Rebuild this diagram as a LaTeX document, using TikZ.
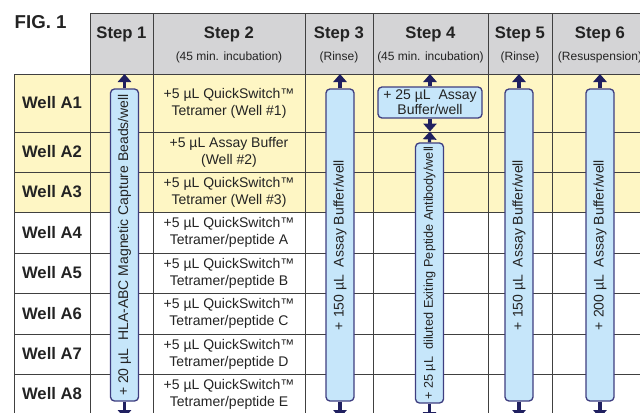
\documentclass[tikz,border=0pt]{standalone}
\usepackage{fontspec}
\setmainfont{Liberation Sans}
\usetikzlibrary{arrows.meta}
\definecolor{hdrgray}{RGB}{212,212,214}
\definecolor{wellyellow}{RGB}{254,246,196}
\definecolor{barblue}{RGB}{198,230,250}
\definecolor{barline}{RGB}{62,62,128}
\definecolor{arrnavy}{RGB}{32,32,96}
\definecolor{gridgray}{RGB}{64,64,64}
\definecolor{txt}{RGB}{35,35,35}

\begin{document}
\begin{tikzpicture}[x=0.75pt,y=-0.75pt,
    cell/.style={text=txt,align=center,font=\fontsize{10.5}{12.8}\selectfont},
    head/.style={text=txt,font=\bfseries\fontsize{12.5}{14}\selectfont},
    sub/.style={text=txt,font=\fontsize{9}{10}\selectfont},
    bar/.style={draw=barline,line width=1pt,fill=barblue,rounded corners=3pt,
      rotate=90,inner sep=0pt,minimum height=21pt,text=txt,
      font=\fontsize{10.5}{12}\selectfont},
    addbox/.style={draw=barline,line width=1pt,fill=barblue,rounded corners=3pt,
      inner sep=0pt,minimum width=78pt,minimum height=23.25pt,align=center,
      text=txt,font=\fontsize{10.5}{11.5}\selectfont},
    arr/.style={arrnavy,line width=2.4pt,-{Triangle[width=10pt,length=6pt]}}]
  \useasboundingbox (0,0) rectangle (640,412);
  \clip (0,0) rectangle (640,412);
  \fill[hdrgray] (90,13) rectangle (660,74);
  \fill[wellyellow] (14,74) rectangle (660,212);
  \draw[gridgray,line width=0.75pt] (90,13) -- (660,13);
  \draw[gridgray,line width=0.75pt] (14,74) -- (14,420);
  \foreach \x in {90,153,305,373,488,552}
    \draw[gridgray,line width=0.75pt] (\x,13) -- (\x,420);
  \foreach \y in {74,132,172,212,253,293,334,374}
    \draw[gridgray,line width=0.75pt] (14,\y) -- (660,\y);

  \node[anchor=west,text=txt,font=\bfseries\fontsize{14}{16}\selectfont] (fig) at (10,22) {FIG. 1};
  \node[head] (h1) at (121.5,34) {Step 1};
  \node[head] (h2) at (229,34) {Step 2};
  \node[sub] (p2) at (229,57) {(45 min. incubation)};
  \node[head] (h3) at (339,34) {Step 3};
  \node[sub] (p3) at (339,57) {(Rinse)};
  \node[head] (h4) at (430.5,34) {Step 4};
  \node[sub] (p4) at (430.5,57) {(45 min. incubation)};
  \node[head] (h5) at (520,34) {Step 5};
  \node[sub] (p5) at (520,57) {(Rinse)};
  \node[head] (h6) at (600,34) {Step 6};
  \node[sub] (p6) at (600,57) {(Resuspension)};

  \foreach \n/\cy in {1/103,2/152,3/192,4/232.5,5/273,6/313.5,7/354,8/394}
    \node[head] (w\n) at (52,\cy) {Well A\n};

  \node[cell] (a1) at (229,103) {+5 µL QuickSwitch™\\Tetramer (Well \#1)};
  \node[cell] (a2) at (229,152) {+5 µL Assay Buffer\\(Well \#2)};
  \node[cell] (a3) at (229,192) {+5 µL QuickSwitch™\\Tetramer (Well \#3)};
  \node[cell] (a4) at (229,232.5) {+5 µL QuickSwitch™\\Tetramer/peptide A};
  \node[cell] (a5) at (229,273) {+5 µL QuickSwitch™\\Tetramer/peptide B};
  \node[cell] (a6) at (229,313.5) {+5 µL QuickSwitch™\\Tetramer/peptide C};
  \node[cell] (a7) at (229,354) {+5 µL QuickSwitch™\\Tetramer/peptide D};
  \node[cell] (a8) at (229,394) {+5 µL QuickSwitch™\\Tetramer/peptide E};

  \node[bar,minimum width=234pt] (s1) at (124.5,245) {+ 20 µL\ \ HLA-ABC Magnetic Capture Beads/well};
  \node[bar,minimum width=234pt] (s3) at (340,245) {+ 150 µL\ \ Assay Buffer/well};
  \node[addbox] (sb) at (430,102.5) {+ 25 µL\ \ Assay\\Buffer/well};
  \node[bar,minimum width=195pt,font=\fontsize{9.5}{11}\selectfont] (s4) at (429.5,273) {+ 25 µL\ \ diluted Exiting Peptide Antibody/well};
  \node[bar,minimum width=234pt] (s5) at (519,245) {+ 150 µL\ \ Assay Buffer/well};
  \node[bar,minimum width=234pt] (s6) at (600,245) {+ 200 µL\ \ Assay Buffer/well};

  \coordinate (t1) at (124.5,74);
  \coordinate (b1) at (124.5,418);
  \coordinate (t3) at (340,74);
  \coordinate (b3) at (340,418);
  \coordinate (t4) at (430,74);
  \coordinate (m4) at (430,131.5);
  \coordinate (b4) at (429.5,420);
  \coordinate (t5) at (519,74);
  \coordinate (b5) at (519,418);
  \coordinate (t6) at (600,74);
  \coordinate (b6) at (600,418);

  \draw[arr] (s1.east) -- (t1);
  \draw[arr] (s1.west) -- (b1);
  \draw[arr] (s3.east) -- (t3);
  \draw[arr] (s3.west) -- (b3);
  \draw[arr] (sb.north) -- (t4);
  \draw[arr] (sb.south) -- (m4);
  \draw[arr] (s4.east) -- (m4);
  \draw[arr] (s4.west) -- (b4);
  \draw[arr] (s5.east) -- (t5);
  \draw[arr] (s5.west) -- (b5);
  \draw[arr] (s6.east) -- (t6);
  \draw[arr] (s6.west) -- (b6);
\end{tikzpicture}
\end{document}
